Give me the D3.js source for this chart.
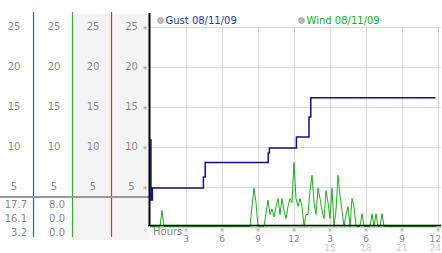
<!DOCTYPE html>
<html>
<head>
<meta charset="utf-8">
<script src="https://cdn.jsdelivr.net/npm/d3@7"></script>
<style>
  body { margin: 0; background: #fff; }
  svg { display: block; font-family: "DejaVu Sans", Verdana, sans-serif; }
</style>
</head>
<body>
<script>
// gust readings: [hour, mph]
const gustData = [
  [0, 10.8], [0.08, 3.3], [0.2, 4.8], [4.45, 6.2], [4.6, 8.0],
  [9.85, 9.2], [9.95, 9.8], [12.2, 11.2], [13.25, 13.7], [13.4, 16.1], [23.8, 16.1]
];
// wind readings every 10 minutes (144 per day)
const windValues = [
  0, 0, 0, 0, 0, 0, 2, 0, 0, 0, 0, 0,
  0, 0, 0, 0, 0, 0, 0, 0, 0, 0, 0, 0,
  0, 0, 0, 0, 0, 0, 0, 0, 0, 0, 0, 0,
  0, 0, 0, 0, 0, 0, 0, 0, 0, 0, 0, 0,
  0, 0, 0, 2.5, 4.8, 3, 0, 0, 0, 0, 1.7, 3.3,
  1.5, 2.2, 1.2, 2.5, 3.5, 1.5, 3.5, 2, 1, 2.5, 3.5, 3,
  8, 3.5, 2.5, 3.5, 2.5, 0, 1.5, 1.5, 4.5, 6.4, 3, 1.5,
  4.8, 3.5, 2, 1, 4.5, 3, 1, 4.8, 0, 2, 6.4, 3.9,
  2, 0, 1.5, 2.5, 0, 3.5, 2.5, 0, 0, 0, 1.6, 0,
  0, 0, 0, 1.6, 0, 1.6, 0, 0, 1.6, 0, 0, 0,
  0, 0, 0, 0, 0, 0, 0, 0, 0, 0, 0, 0,
  0, 0, 0, 0, 0, 0, 0, 0, 0, 0, 0, 0
];
const yTicks = [5, 10, 15, 20, 25];
const hourTicks = [3, 6, 9, 12, 15, 18, 21, 24];
const hourLabels = ["3", "6", "9", "12", "3", "6", "9", "12"];
const hourLabels2 = ["", "", "", "", "15", "18", "21", "24"];
const gustStats = ["17.7", "16.1", "3.2"];
const windStats = ["8.0", "0.0", "0.0"];
const legendNames = ["Gust 08/11/09", "Wind 08/11/09"];

const w = 442, h = 253;
const svg = d3.select("body").append("svg").attr("width", w).attr("height", h);

const x = d3.scaleLinear().domain([0, 24]).range([150, 438]);
const y = d3.scaleLinear().domain([0, 25]).range([226.5, 26.5]);

// grey columns on the left
svg.append("rect").attr("x", 72).attr("y", 14).attr("width", 77).attr("height", 226).attr("fill", "#f4f4f4");

// grid
svg.append("g").selectAll("line").data(yTicks).join("line")
  .attr("x1", 150).attr("x2", 441)
  .attr("y1", d => Math.round(y(d)) + 0.5).attr("y2", d => Math.round(y(d)) + 0.5)
  .attr("stroke", "#d8d8d8");
svg.append("g").selectAll("line").data(hourTicks).join("line")
  .attr("x1", d => Math.round(x(d)) + 0.5).attr("x2", d => Math.round(x(d)) + 0.5)
  .attr("y1", y(25)).attr("y2", y(0))
  .attr("stroke", "#d8d8d8");

// column separators
const cols = [{ x: 33.5, c: "#3358d0" }, { x: 72.5, c: "#33aa33" }, { x: 111.5, c: "#d03a3a" }];
svg.append("g").selectAll("line").data(cols).join("line")
  .attr("x1", d => d.x).attr("x2", d => d.x).attr("y1", 12).attr("y2", 237)
  .attr("stroke", d => d.c).attr("stroke-width", 1.2);

// horizontal divider
svg.append("line").attr("x1", 0).attr("x2", 149).attr("y1", 197).attr("y2", 197)
  .attr("stroke", "#9a9a9a").attr("stroke-width", 2);

// left tick labels, 4 columns
const colCenters = [14, 54, 93, 131.5];
colCenters.forEach(cx => {
  svg.append("g").selectAll("text").data(yTicks).join("text")
    .attr("x", cx).attr("y", d => y(d) + 3.5)
    .attr("text-anchor", "middle").attr("font-size", 10).attr("fill", "#888")
    .text(d => d);
});
svg.append("g").selectAll("text").data(yTicks).join("text")
  .attr("x", 145).attr("y", d => y(d) + 3)
  .attr("text-anchor", "middle").attr("font-size", 6).attr("fill", "#999")
  .text("※");

// stats
svg.append("g").selectAll("text").data(gustStats).join("text")
  .attr("x", 27).attr("y", (d, i) => 208 + i * 14)
  .attr("text-anchor", "end").attr("font-size", 10).attr("fill", "#888").text(d => d);
svg.append("g").selectAll("text").data(windStats).join("text")
  .attr("x", 65).attr("y", (d, i) => 208 + i * 14)
  .attr("text-anchor", "end").attr("font-size", 10).attr("fill", "#888").text(d => d);

// wind line
const windLine = d3.line().x((d, i) => x(i / 6)).y(d => y(d));
svg.append("line").attr("x1", 150).attr("x2", 441).attr("y1", 227).attr("y2", 227)
  .attr("stroke", "#99dd99").attr("stroke-width", 1.5);
svg.append("path").datum(windValues).attr("d", windLine)
  .attr("fill", "none").attr("stroke", "#22aa22").attr("stroke-width", 1);

// gust line
const gustLine = d3.line().x(d => x(d[0])).y(d => y(d[1])).curve(d3.curveStepAfter);
svg.append("path").datum(gustData).attr("d", gustLine)
  .attr("fill", "none").attr("stroke", "#10108a").attr("stroke-width", 1.5);

// axes lines
svg.append("line").attr("x1", 149.5).attr("x2", 149.5).attr("y1", 13).attr("y2", 226)
  .attr("stroke", "#000").attr("stroke-width", 2);
svg.append("line").attr("x1", 148).attr("x2", 441).attr("y1", 225.5).attr("y2", 225.5)
  .attr("stroke", "#000").attr("stroke-width", 1.5);

// x labels
const lastX = i => i === hourTicks.length - 1;
svg.append("text").attr("x", 153).attr("y", 235).attr("font-size", 10).attr("fill", "#888").text("Hours");
svg.append("g").selectAll("text").data(hourTicks).join("text")
  .attr("x", d => x(d)).attr("y", 232).attr("text-anchor", "middle")
  .attr("font-size", 6).attr("fill", "#999").text("※");
svg.append("g").selectAll("text").data(hourTicks).join("text")
  .attr("x", (d, i) => lastX(i) ? 441 : x(d)).attr("y", 241.5)
  .attr("text-anchor", (d, i) => lastX(i) ? "end" : "middle")
  .attr("font-size", 9).attr("fill", "#888").text((d, i) => hourLabels[i]);
svg.append("g").selectAll("text").data(hourTicks).join("text")
  .attr("x", (d, i) => lastX(i) ? 441 : x(d)).attr("y", 251)
  .attr("text-anchor", (d, i) => lastX(i) ? "end" : "middle")
  .attr("font-size", 9).attr("fill", "#ccc").text((d, i) => hourLabels2[i]);

// legend
const legend = [{ x: 160.5, c: "#2233aa" }, { x: 301.5, c: "#22aa22" }];
legend.forEach((l, i) => {
  svg.append("circle").attr("cx", l.x).attr("cy", 20.5).attr("r", 3)
    .attr("fill", "#bbb").attr("stroke", "#999").attr("stroke-width", 0.7);
  svg.append("text").attr("x", l.x + 5).attr("y", 24).attr("font-size", 10)
    .attr("fill", l.c).text(legendNames[i]);
});
</script>
</body>
</html>
